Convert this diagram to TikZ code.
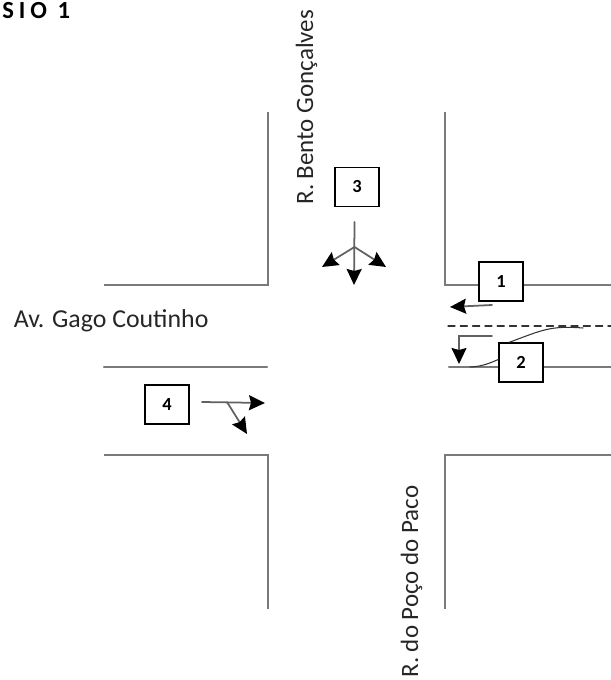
\documentclass[tikz,border=0pt]{standalone}
\usepackage{fontspec}
\setmainfont{Carlito}
\usetikzlibrary{arrows.meta}
\begin{document}
\begin{tikzpicture}[>={Stealth[length=3.2mm,width=3mm,inset=0.4mm,color=black]},line cap=round,
  road/.style={draw=black!52,line width=1.2pt},
  flow/.style={draw=black!62,line width=1pt},
  numbox/.style={draw=black,line width=0.8pt,fill=white,minimum width=0.88cm,minimum height=0.78cm,inner sep=0pt,font=\fontsize{10.5}{12}\selectfont\bfseries},
  street/.style={inner sep=0pt,text=black!85,font=\fontsize{14.2}{16}\selectfont}]
\useasboundingbox (0,0) rectangle (12.22,13.6);
\draw[road,line cap=butt] (5.36,11.36) -- (5.36,7.9) -- (2.08,7.9);
\draw[road,line cap=butt] (8.9,11.36) -- (8.9,7.9) -- (12.22,7.9);
\draw[road] (2.08,6.26) -- (5.34,6.26);
\draw[road] (8.98,6.26) -- (12.22,6.26);
\draw[road,line cap=butt] (2.08,4.5) -- (5.36,4.5) -- (5.36,1.42);
\draw[road,line cap=butt] (12.22,4.5) -- (8.9,4.5) -- (8.9,1.42);
\draw[black!80,line width=0.7pt,dash pattern=on 4pt off 3pt] (8.96,7.08) -- (12.22,7.08);
% numbered boxes
\node[numbox] (box1) at (10.02,7.97) {1};
\node[numbox] (box2) at (10.42,6.35) {2};
\node[numbox] (box3) at (7.14,9.86) {3};
\node[numbox] (box4) at (3.34,5.51) {4};
% arrows
\coordinate (a1s) at (9.84,7.5);
\coordinate (a1e) at (9.0,7.46);
\draw[flow,->] (a1s) -- (a1e);
\coordinate (a2s) at (9.84,6.88);
\coordinate (a2m) at (9.18,6.88);
\coordinate (a2e) at (9.18,6.32);
\draw[flow,->] (a2s) -- (a2m) -- (a2e);
\coordinate (a3s) at (7.09,9.16);
\coordinate (a3m) at (7.09,8.66);
\coordinate (a3e) at (7.08,7.9);
\coordinate (a3l) at (6.44,8.26);
\coordinate (a3r) at (7.72,8.26);
\draw[flow,->] (a3s) -- (a3e);
\draw[flow,->] (a3m) -- (a3l);
\draw[flow,->] (a3m) -- (a3r);
\coordinate (a4s) at (4.04,5.56);
\coordinate (a4m) at (4.54,5.56);
\coordinate (a4e) at (5.3,5.54);
\coordinate (a4b) at (4.94,4.92);
\draw[flow,->] (a4s) -- (a4e);
\draw[flow,->] (a4m) -- (a4b);
% leaders of box 2
\coordinate (lead1) at (9.4,6.26);
\coordinate (lead2) at (11.66,7.04);
\draw[black!80,line width=0.6pt] (box2.west) ++(0,0.06) .. controls (9.8,6.34) and (9.65,6.27) .. (lead1);
\draw[black!80,line width=0.6pt] (box2.north west) ++(0.22,0) .. controls (10.85,7.0) and (11.0,7.09) .. (lead2);
% street names
\node[street,rotate=90,anchor=base west] (bento) at (6.26,9.5) {R. Bento Gonçalves};
\node[street,rotate=90,anchor=base west] (poco) at (8.36,0.04) {R. do Poço do Paco};
\node[street,anchor=base west,font=\fontsize{14.7}{16}\selectfont] (gago) at (0.27,7.04) {Av. Gago Coutinho};
\node[inner sep=0pt,anchor=base west,font=\fontsize{14}{16}\selectfont\bfseries\addfontfeature{LetterSpace=20}] (title) at (0.04,13.22) {SIO 1};
\end{tikzpicture}
\end{document}
